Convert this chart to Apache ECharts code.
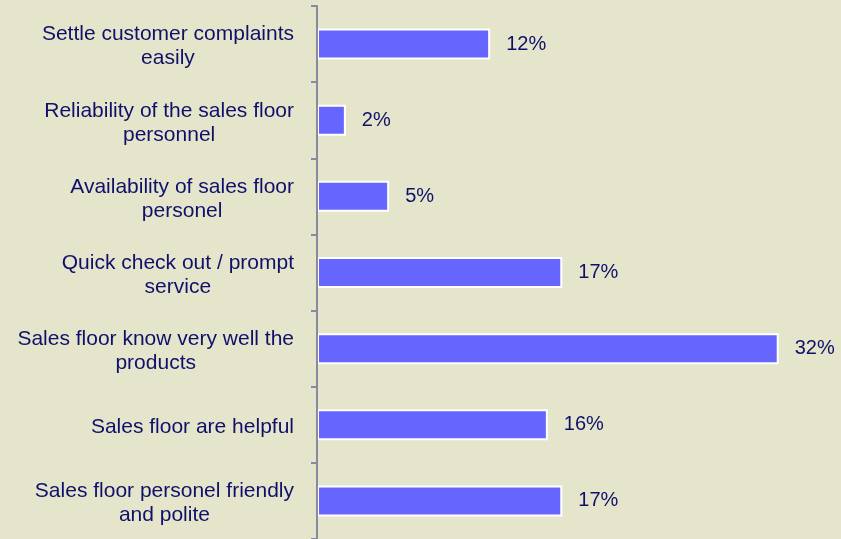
<!DOCTYPE html>
<html>
<head>
<meta charset="utf-8">
<script src="https://cdn.jsdelivr.net/npm/echarts@6/dist/echarts.min.js"></script>
<style>
  html, body { margin: 0; padding: 0; background: #e5e5cc; }
  #chart { width: 841px; height: 539px; }
</style>
</head>
<body>
<div id="chart"></div>
<script>
// Reasons mentioned for store service satisfaction (share of respondents, %)
const categories = [
  'Settle customer complaints\neasily',
  'Reliability of the sales floor\npersonnel',
  'Availability of sales floor\npersonel',
  'Quick check out / prompt\nservice',
  'Sales floor know very well the\nproducts',
  'Sales floor are helpful',
  'Sales floor personel friendly\nand polite'
];
const shares = [12, 2, 5, 17, 32, 16, 17];

const textColor = '#10106a';
const chart = echarts.init(document.getElementById('chart'), null, { renderer: 'canvas' });

chart.setOption({
  backgroundColor: '#e5e5cc',
  animation: false,
  grid: { left: 317, top: 6, right: 19, height: 535, containLabel: false },
  xAxis: {
    type: 'value',
    min: 0,
    max: 35,
    show: false
  },
  yAxis: {
    type: 'category',
    data: categories,
    inverse: true,
    z: 5,
    axisLine: { show: true, lineStyle: { color: '#8a8a9e', width: 2 } },
    axisTick: { show: true, length: 6, lineStyle: { color: '#8a8a9e', width: 2 } },
    axisLabel: {
      margin: 23,
      padding: [5, 0, 0, 0],
      formatter: v => v.split('\n').map(l => '{c|' + l + '}').join('\n'),
      rich: {
        c: {
          align: 'center',
          fontFamily: 'Liberation Sans, Arial, sans-serif',
          fontSize: 21,
          lineHeight: 24,
          color: textColor
        }
      }
    },
    splitLine: { show: false }
  },
  series: [{
    type: 'bar',
    data: shares,
    barWidth: 31,
    itemStyle: { color: '#6666ff', borderColor: '#ffffff', borderWidth: 2 },
    label: {
      show: true,
      position: 'right',
      distance: 16,
      formatter: '{c}%',
      fontFamily: 'Liberation Sans, Arial, sans-serif',
      fontSize: 20,
      color: textColor
    }
  }]
});
</script>
</body>
</html>
